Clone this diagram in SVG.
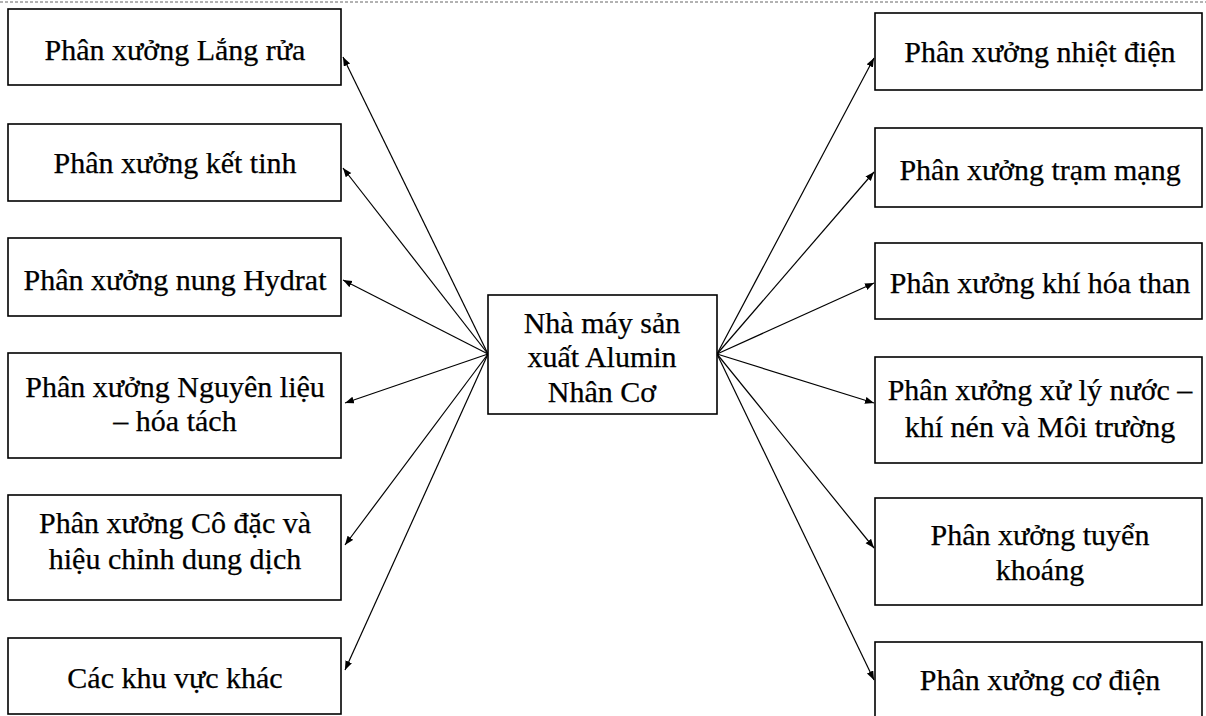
<svg xmlns="http://www.w3.org/2000/svg" width="1206" height="716" viewBox="0 0 1206 716">
<style>
.box{fill:#fff;stroke:#000;stroke-width:1.6}
.t{font-family:"Liberation Serif","Times New Roman",serif;font-size:30px;fill:#000;stroke:#000;stroke-width:0.25;text-anchor:middle}
.c{stroke:#000;stroke-width:1.2;fill:none;marker-end:url(#ah)}
</style>
<defs>
<marker id="ah" markerUnits="userSpaceOnUse" markerWidth="12" markerHeight="10" refX="9" refY="3.5" orient="auto">
<path d="M0,0 L9,3.5 L0,7 Z" fill="#000"/>
</marker>
</defs>
<rect width="1206" height="716" fill="#fff"/>
<line x1="0" y1="2" x2="1206" y2="2" stroke="#666" stroke-width="1" stroke-dasharray="3,2"/>
<g id="connectors">
<line class="c" x1="488" y1="354" x2="343" y2="57"/>
<line class="c" x1="488" y1="354" x2="343" y2="168"/>
<line class="c" x1="488" y1="354" x2="343" y2="280"/>
<line class="c" x1="488" y1="354" x2="345" y2="403"/>
<line class="c" x1="488" y1="354" x2="345" y2="545"/>
<line class="c" x1="488" y1="354" x2="345" y2="670"/>
<line class="c" x1="717" y1="354" x2="874" y2="58"/>
<line class="c" x1="717" y1="354" x2="874" y2="172"/>
<line class="c" x1="717" y1="354" x2="874" y2="283"/>
<line class="c" x1="717" y1="354" x2="874" y2="403"/>
<line class="c" x1="717" y1="354" x2="874" y2="548"/>
<line class="c" x1="717" y1="354" x2="874" y2="680"/>
</g>
<g id="center">
<rect class="box" x="488" y="295" width="229" height="119"/>
<text class="t" x="602" y="333">Nhà máy sản</text>
<text class="t" x="602" y="367">xuất Alumin</text>
<text class="t" x="602" y="402">Nhân Cơ</text>
</g>
<g id="l1">
<rect class="box" x="8" y="9" width="333" height="76"/>
<text class="t" x="175" y="60">Phân xưởng Lắng rửa</text>
</g>
<g id="l2">
<rect class="box" x="8" y="124" width="333" height="77"/>
<text class="t" x="175" y="173">Phân xưởng kết tinh</text>
</g>
<g id="l3">
<rect class="box" x="8" y="238" width="333" height="78"/>
<text class="t" x="175" y="290">Phân xưởng nung Hydrat</text>
</g>
<g id="l4">
<rect class="box" x="8" y="353" width="333" height="105"/>
<text class="t" x="175" y="397">Phân xưởng Nguyên liệu</text>
<text class="t" x="175" y="431">– hóa tách</text>
</g>
<g id="l5">
<rect class="box" x="8" y="495" width="333" height="105"/>
<text class="t" x="175" y="533">Phân xưởng Cô đặc và</text>
<text class="t" x="175" y="569">hiệu chỉnh dung dịch</text>
</g>
<g id="l6">
<rect class="box" x="8" y="638" width="333" height="76"/>
<text class="t" x="175" y="688">Các khu vực khác</text>
</g>
<g id="r1">
<rect class="box" x="875" y="13" width="327" height="77"/>
<text class="t" x="1040" y="62">Phân xưởng nhiệt điện</text>
</g>
<g id="r2">
<rect class="box" x="875" y="128" width="327" height="79"/>
<text class="t" x="1040" y="180">Phân xưởng trạm mạng</text>
</g>
<g id="r3">
<rect class="box" x="875" y="243" width="327" height="76"/>
<text class="t" x="1040" y="293">Phân xưởng khí hóa than</text>
</g>
<g id="r4">
<rect class="box" x="875" y="357" width="327" height="106"/>
<text class="t" x="1040" y="400">Phân xưởng xử lý nước –</text>
<text class="t" x="1040" y="437">khí nén và Môi trường</text>
</g>
<g id="r5">
<rect class="box" x="875" y="498" width="327" height="107"/>
<text class="t" x="1040" y="545">Phân xưởng tuyển</text>
<text class="t" x="1040" y="580">khoáng</text>
</g>
<g id="r6">
<rect class="box" x="875" y="642" width="327" height="80"/>
<text class="t" x="1040" y="690">Phân xưởng cơ điện</text>
</g>
</svg>
